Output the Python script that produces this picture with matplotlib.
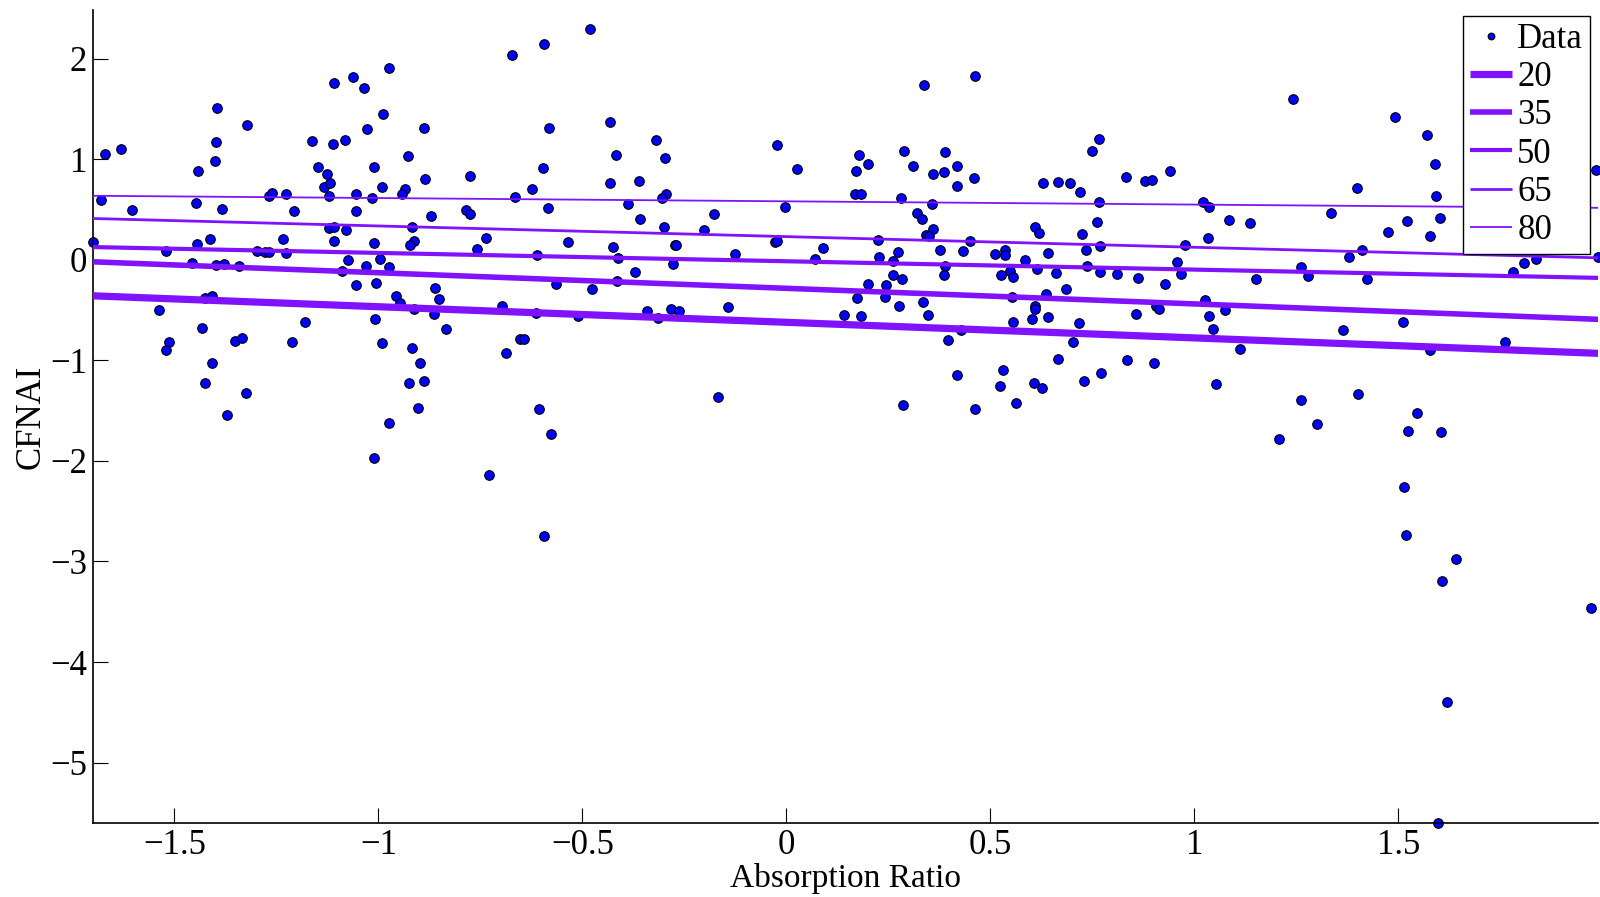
import matplotlib
matplotlib.use("Agg")
import matplotlib.pyplot as plt
import numpy as np

# Absorption ratio (x) vs CFNAI (y)
absorption = [
    -0.975, -1.110, -1.063, -1.036, -1.396, -1.322, -0.989, -1.029, -1.162, -1.082,
    -1.112, -1.399, -1.671, -1.630, -1.401, -1.443, -1.149, -1.126, -1.011, -1.133,
    -1.119, -0.990, -1.121, -1.054, -1.015, -1.267, -1.260, -1.226, -1.680, -1.448,
    -1.605, -1.384, -1.208, -1.054, -1.120, -1.110, -1.080, -1.700, -1.445, -1.412,
    -1.233, -1.110, -1.011, -1.520, -1.298, -1.278, -1.269, -1.226, -1.075, -0.997,
    -1.456, -1.398, -1.379, -1.341, -1.090, -1.030, -0.974, -1.054, -1.005, -1.426,
    -1.407, -1.537, -1.008, -1.181, -1.432, -0.992, -1.513, -1.520, -1.351, -1.334,
    -1.213, -1.409, -1.425, -1.325, -1.370, -0.975,
    -1.011, -0.728, -0.593,
    -0.481, -0.594, -0.672, -0.889, -0.581, -0.432, -0.319, -0.928, -0.418, -0.298,
    -0.597, -0.936, -0.943, -0.885, -0.775, -0.624, -0.432, -0.362, -0.666, -0.296,
    -0.304, -0.389, -0.584, -0.785, -0.775, -0.872, -0.359, -0.917, -0.299, -0.737,
    -0.913, -0.923, -0.535, -0.758, -0.425, -0.272, -0.611, -0.412, -0.277, -0.370,
    -0.416, -0.565, -0.477, -0.862, -0.851, -0.957, -0.947, -0.914, -0.863, -0.698,
    -0.614, -0.512, -0.341, -0.315, -0.282, -0.264, -0.834, -0.917, -0.654, -0.642,
    -0.687, -0.898, -0.925, -0.888, -0.904, -0.606, -0.577,
    0.337, -0.024, 0.026, 0.177, 0.287, 0.388, 0.201, 0.171, 0.310, 0.418,
    0.358, 0.387, 0.418, 0.167, 0.182, 0.280, 0.357, -0.003, -0.177, 0.321,
    0.332, 0.359, -0.202, 0.342, 0.350, -0.271, -0.029, -0.023, 0.225, 0.090,
    -0.127, 0.274, 0.377, 0.432, 0.071, 0.228, 0.261, 0.388, 0.385, 0.260,
    0.284, 0.199, 0.245, 0.173, 0.242, 0.275, 0.334, 0.346, 0.140, 0.183,
    -0.142, 0.428, 0.395, 0.418, -0.167, 0.285,
    0.463, 0.767, 0.749, 0.459, 0.630, 0.666, 0.695, 0.719, 0.831, 0.880,
    0.897, 0.939, 0.765, 1.022, 1.036, 1.085, 1.136, 0.761, 0.610, 0.618,
    0.725, 1.032, 0.451, 0.510, 0.535, 0.535, 0.640, 0.733, 0.769, 0.977,
    0.585, 0.737, 0.613, 0.957, 0.548, 0.526, 0.556, 0.660, 0.769, 0.811,
    0.861, 0.966, 0.928, 1.152, 0.685, 0.553, 0.636, 0.609, 0.610, 0.642,
    0.601, 0.556, 0.716, 0.857, 0.905, 0.914, 1.026, 1.036, 1.074, 1.046,
    1.112, 0.703, 0.666, 0.835, 0.902, 0.531, 0.523, 0.607, 0.626, 0.729,
    0.772, 1.052, 0.562, 0.463,
    1.241, 1.492, 1.569, 1.590, 1.985, 1.399, 1.592, 1.335, 1.602, 1.520,
    1.475, 1.578, 1.411, 1.379, 1.836, 1.807, 1.781, 1.989, 1.261, 1.279,
    1.423, 1.512, 1.365, 1.761, 1.578, 1.260, 1.401, 1.301, 1.545, 1.523,
    1.605, 1.207,
    1.514, 1.519, 1.640, 1.607, 1.972, 1.620, 1.597,
]
cfnai = [
    1.907, 1.761, 1.814, 1.705, 1.507, 1.338, 1.447, 1.298, 1.182, 1.195,
    1.146, 1.169, 1.056, 1.102, 0.980, 0.881, 0.927, 0.854, 0.927, 0.728,
    0.765, 0.725, 0.632, 0.652, 0.612, 0.636, 0.659, 0.656, 0.596, 0.566,
    0.490, 0.507, 0.480, 0.483, 0.311, 0.324, 0.295, 0.179, 0.156, 0.209,
    0.209, 0.189, 0.162, 0.089, 0.089, 0.073, 0.079, 0.069, -0.007, 0.003,
    -0.037, -0.056, -0.040, -0.063, -0.113, -0.063, -0.073, -0.248, -0.235, -0.384,
    -0.361, -0.497, -0.586, -0.623, -0.682, -0.831, -0.815, -0.901, -0.808, -0.775,
    -0.815, -1.023, -1.229, -1.328, -1.540, -1.626,
    -1.967, -2.139, -2.744,
    2.295, 2.149, 2.033, 1.308, 1.314, 1.367, 1.192, 1.033, 1.040, 1.010,
    0.917, 0.708, 0.652, 0.804, 0.828, 0.699, 0.765, 0.785, 0.626, 0.656,
    0.609, 0.559, 0.510, 0.493, 0.450, 0.434, 0.404, 0.321, 0.324, 0.212,
    0.189, 0.149, 0.175, 0.106, 0.129, 0.146, 0.043, 0.020, -0.046, -0.126,
    -0.212, -0.245, -0.291, -0.285, -0.391, -0.358, -0.434, -0.493, -0.543, -0.460,
    -0.533, -0.560, -0.507, -0.583, -0.490, -0.510, -0.692, -0.878, -0.788, -0.788,
    -0.924, -1.030, -1.222, -1.202, -1.474, -1.484, -1.732,
    1.742, 1.139, 0.907, 1.046, 1.079, 1.069, 0.950, 0.884, 0.937, 0.930,
    0.848, 0.874, 0.732, 0.652, 0.652, 0.612, 0.553, 0.526, 0.450, 0.460,
    0.404, 0.305, 0.298, 0.245, 0.235, 0.142, 0.179, 0.185, 0.195, 0.112,
    0.056, 0.073, 0.099, 0.089, 0.006, 0.026, -0.017, -0.063, -0.152, -0.149,
    -0.192, -0.245, -0.252, -0.381, -0.371, -0.464, -0.421, -0.547, -0.550, -0.563,
    -0.474, -0.699, -0.801, -1.146, -1.364, -1.444,
    1.831, 1.199, 1.079, 0.814, 0.765, 0.771, 0.761, 0.672, 0.824, 0.781,
    0.795, 0.881, 0.576, 0.579, 0.526, 0.397, 0.364, 0.374, 0.321, 0.262,
    0.255, 0.218, 0.185, 0.059, 0.096, 0.046, 0.066, 0.093, 0.132, 0.149,
    -0.007, -0.060, -0.096, -0.020, -0.113, -0.152, -0.172, -0.136, -0.123, -0.139,
    -0.182, -0.142, -0.242, -0.189, -0.288, -0.368, -0.344, -0.457, -0.487, -0.566,
    -0.589, -0.622, -0.629, -0.536, -0.460, -0.494, -0.397, -0.556, -0.497, -0.689,
    -0.884, -0.815, -0.990, -0.993, -1.030, -1.099, -1.258, -1.222, -1.272, -1.205,
    -1.123, -1.232, -1.427, -1.487,
    1.603, 1.420, 1.245, 0.950, 0.891, 0.715, 0.636, 0.463, 0.420, 0.381,
    0.278, 0.235, 0.096, 0.026, 0.007, -0.030, -0.119, 0.026, -0.073, -0.166,
    -0.195, -0.622, -0.699, -0.815, -0.897, -1.391, -1.338, -1.633, -1.523, -1.699,
    -1.709, -1.785,
    -2.263, -2.734, -2.972, -3.190, -3.467, -4.398, -5.600,
]

# quantile regression fits: quantile (%), intercept, slope
quantiles = ["20", "35", "50", "65", "80"]
intercepts = [-0.622, -0.284, -0.015, 0.230, 0.581]
slopes = [-0.155, -0.155, -0.083, -0.106, -0.0325]
line_widths = [5.2, 4.0, 3.0, 2.0, 1.3]

x_range = [-1.70, 1.99]
y_range = [-5.60, 2.48]

plt.rcParams["font.family"] = ["Liberation Serif", "DejaVu Serif"]
plt.rcParams["font.size"] = 25

fig = plt.figure(figsize=(16, 8.97), dpi=100)
ax = fig.add_axes([0.058, 0.0825, 0.941, 0.906])

ax.plot(absorption, cfnai, linestyle="none", marker="o", markersize=6.9,
        markerfacecolor="#0000ff", markeredgecolor="black", markeredgewidth=0.8,
        label="Data", clip_on=False, zorder=2)

xs = np.array(x_range)
for q, b0, b1, lw in zip(quantiles, intercepts, slopes, line_widths):
    ax.plot(xs, b0 + b1 * xs, color="#8012ff", linewidth=lw, label=q,
            solid_capstyle="butt", zorder=3)

ax.set_xlim(*x_range)
ax.set_ylim(*y_range)
ax.set_xticks([-1.5, -1, -0.5, 0, 0.5, 1, 1.5])
ax.set_xticklabels(["\u22121.5", "\u22121", "\u22120.5", "0", "0.5", "1", "1.5"])
ax.set_yticks([-5, -4, -3, -2, -1, 0, 1, 2])
ax.set_yticklabels(["\u22125", "\u22124", "\u22123", "\u22122", "\u22121", "0", "1", "2"])
ax.tick_params(direction="in", length=11, width=0.8, labelsize=25, pad=4)
ax.spines["top"].set_visible(False)
ax.spines["right"].set_visible(False)
ax.spines["left"].set_linewidth(1.2)
ax.spines["bottom"].set_linewidth(1.2)

ax.set_xlabel("Absorption Ratio", fontsize=24, labelpad=1)
ax.set_ylabel("CFNAI", fontsize=25, labelpad=2)

leg = ax.legend(loc="upper right", bbox_to_anchor=(1590 / 1600, 1 - 16 / 897),
                bbox_transform=fig.transFigure, fontsize=25, handlelength=1.2,
                handletextpad=0.15, labelspacing=0.15, borderpad=0.2,
                borderaxespad=0, fancybox=False, framealpha=1, markerscale=0.7)
leg.get_frame().set_edgecolor("black")
leg.get_frame().set_linewidth(1.0)

fig.savefig("out.png", dpi=100)
